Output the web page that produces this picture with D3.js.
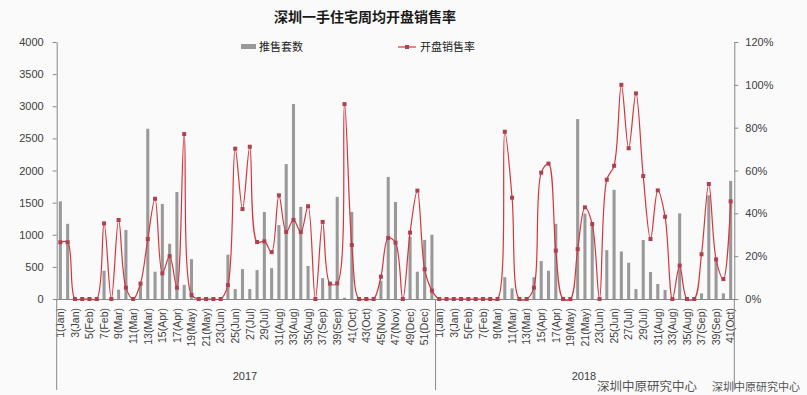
<!DOCTYPE html>
<html lang="zh">
<head>
    <meta charset="UTF-8">
    <title>深圳一手住宅周均开盘销售率</title>
    <script src="https://d3js.org/d3.v7.min.js"></script>
</head>
<style>
    html,body {
        margin: 0;
        padding: 0;
        background: #fafafa;
    }
    text { font-family: "Liberation Sans", Arial, sans-serif; }
    .cjk { font-family: "Noto Sans CJK SC", sans-serif; }
</style>
<body>
    <div id="svg"></div>
</body>
<script>
    // 周标签
    const weeks2017 = ["1(Jan)","2(Jan)","3(Jan)","4(Jan)","5(Feb)","6(Feb)","7(Feb)","8(Feb)","9(Mar)","10(Mar)",
        "11(Mar)","12(Mar)","13(Mar)","14(Apr)","15(Apr)","16(Apr)","17(Apr)","18(May)","19(May)","20(May)",
        "21(May)","22(Jun)","23(Jun)","24(Jun)","25(Jun)","26(Jun)","27(Jul)","28(Jul)","29(Jul)","30(Jul)",
        "31(Aug)","32(Aug)","33(Aug)","34(Aug)","35(Aug)","36(Sep)","37(Sep)","38(Sep)","39(Sep)","40(Oct)",
        "41(Oct)","42(Oct)","43(Oct)","44(Nov)","45(Nov)","46(Nov)","47(Nov)","48(Dec)","49(Dec)","50(Dec)",
        "51(Dec)","52(Dec)"];
    const weeks2018 = ["1(Jan)","2(Jan)","3(Jan)","4(Jan)","5(Feb)","6(Feb)","7(Feb)","8(Feb)","9(Mar)","10(Mar)",
        "11(Mar)","12(Mar)","13(Mar)","14(Apr)","15(Apr)","16(Apr)","17(Apr)","18(May)","19(May)","20(May)",
        "21(May)","22(Jun)","23(Jun)","24(Jun)","25(Jun)","26(Jun)","27(Jul)","28(Jul)","29(Jul)","30(Jul)",
        "31(Aug)","32(Aug)","33(Aug)","34(Aug)","35(Aug)","36(Sep)","37(Sep)","38(Sep)","39(Sep)","40(Oct)",
        "41(Oct)"];
    const years = ["2017", "2018"];

    // 推售套数
    const units2017 = [1520,1170,0,0,0,0,440,0,145,1075,
        0,245,2650,425,1480,860,1665,220,620,0,
        0,0,0,690,155,465,155,450,1355,480,
        1150,2100,3035,1435,515,0,325,235,1590,20,
        1355,0,0,0,285,1900,1510,0,970,425,
        920,1000];
    const units2018 = [0,0,0,0,0,0,0,0,0,340,
        165,0,0,340,590,440,1170,0,0,2800,
        1330,1150,0,760,1700,740,565,155,918,420,
        233,140,0,1333,0,0,88,1613,600,88,
        1837];

    // 开盘销售率 (%)
    const rate2017 = [26.5,26.5,0,0,0,0,35.3,0,36.9,5.3,
        0,7.2,28,46.8,12,20,5.3,77,1.9,0,
        0,0,0,6.5,70.2,42,71.1,26.6,26.9,21.9,
        48.4,31.3,36.9,31.3,43.3,0,36,7.2,7.3,91,
        25.2,0,0,0,10.4,28.5,26.3,0,31,50.6,
        13.9,3.9];
    const rate2018 = [0,0,0,0,0,0,0,0,0,78.1,
        47.3,0,0,5.3,59,63.2,22.6,0,0,23.3,
        42.8,35,0,55.7,62.2,100,70.4,96,57.4,28,
        50.7,38.4,0,15.6,0,0,20.9,53.7,18.5,9.3,
        45.6];

    const leftTicks = [0,500,1000,1500,2000,2500,3000,3500,4000];
    const rightTicks = [0,20,40,60,80,100,120];

    const labels = weeks2017.concat(weeks2018);
    const units = units2017.concat(units2018);
    const rates = rate2017.concat(rate2018);
    const idx = d3.range(labels.length);

    const svg = d3.select('#svg').append('svg')
        .attr('width', 807)
        .attr('height', 395);

    const pLeft = 56.7, pRight = 734.3, pTop = 42, pBottom = 299;

    const x = d3.scaleBand().domain(idx).range([pLeft, pRight]).padding(0);
    const yL = d3.scaleLinear().domain([0, 4000]).range([pBottom, pTop]);
    const yR = d3.scaleLinear().domain([0, 120]).range([pBottom, pTop]);
    const cx = i => x(i) + x.bandwidth() / 2;

    // 柱
    const bw = x.bandwidth() * 0.42;
    svg.append('g')
        .selectAll('rect')
        .data(idx)
        .enter()
        .append('rect')
        .attr('x', i => cx(i) - bw / 2)
        .attr('y', i => yL(units[i]))
        .attr('width', bw)
        .attr('height', i => pBottom - yL(units[i]))
        .attr('fill', '#999999');

    // 左轴
    const gl = svg.append('g')
        .attr('transform', `translate(${pLeft},0)`)
        .call(d3.axisLeft(yL).tickValues(leftTicks).tickSize(4).tickPadding(9).tickSizeOuter(0)
            .tickFormat(d3.format('d')));
    // 右轴
    const gr = svg.append('g')
        .attr('transform', `translate(${pRight},0)`)
        .call(d3.axisRight(yR).tickValues(rightTicks).tickSize(4).tickPadding(7).tickSizeOuter(0)
            .tickFormat(d => d + '%'));
    [gl, gr].forEach(g => {
        g.select('.domain').attr('stroke', '#888');
        g.selectAll('.tick line').attr('stroke', '#888');
        g.selectAll('.tick text').attr('fill', '#404040').style('font-size', '11px');
    });

    // 类别轴
    const gx = svg.append('g')
        .attr('transform', `translate(0,${pBottom})`)
        .call(d3.axisBottom(x).tickValues(idx.filter(i => (i < 52 ? i : i - 52) % 2 === 0))
            .tickFormat(i => labels[i]).tickSize(0).tickSizeOuter(0));
    gx.select('.domain').attr('stroke', '#888');
    gx.selectAll('.tick text')
        .attr('transform', 'rotate(-90)')
        .attr('x', -9)
        .attr('y', 0)
        .attr('dy', '0.36em')
        .style('text-anchor', 'end')
        .style('font-size', '10.5px')
        .attr('fill', '#404040');

    // 年份分隔线
    const seps = [pLeft, x(52), pRight];
    svg.append('g')
        .selectAll('line')
        .data(seps)
        .enter()
        .append('line')
        .attr('x1', d => d).attr('x2', d => d)
        .attr('y1', pBottom).attr('y2', 390)
        .attr('stroke', '#888');

    svg.append('g')
        .selectAll('text')
        .data(years)
        .enter()
        .append('text')
        .attr('x', (d, k) => k === 0 ? 245 : 584)
        .attr('y', 380)
        .attr('text-anchor', 'middle')
        .style('font-size', '11px')
        .attr('fill', '#404040')
        .text(d => d);

    // 折线
    const line = d3.line()
        .x(i => cx(i))
        .y(i => yR(rates[i]))
        .curve(d3.curveCatmullRom.alpha(0.5));
    svg.append('path')
        .attr('d', line(idx))
        .attr('fill', 'none')
        .attr('stroke', '#d7343c')
        .attr('stroke-width', 1.2);
    svg.append('g')
        .selectAll('rect')
        .data(idx)
        .enter()
        .append('rect')
        .attr('x', i => cx(i) - 2)
        .attr('y', i => yR(rates[i]) - 2)
        .attr('width', 4)
        .attr('height', 4)
        .attr('fill', '#b0404e');

    // 标题
    svg.append('text')
        .attr('class', 'cjk')
        .attr('x', 365)
        .attr('y', 22)
        .attr('text-anchor', 'middle')
        .style('font-size', '14px')
        .style('font-weight', 'bold')
        .attr('fill', '#1a1a1a')
        .text('深圳一手住宅周均开盘销售率');

    // 图例
    svg.append('rect')
        .attr('x', 241).attr('y', 44).attr('width', 15).attr('height', 5)
        .attr('fill', '#999999');
    svg.append('text')
        .attr('class', 'cjk')
        .attr('x', 259).attr('y', 51)
        .style('font-size', '11px')
        .attr('fill', '#222')
        .text('推售套数');
    svg.append('line')
        .attr('x1', 398).attr('x2', 416).attr('y1', 47).attr('y2', 47)
        .attr('stroke', '#d7343c').attr('stroke-width', 1.2);
    svg.append('rect')
        .attr('x', 405).attr('y', 45).attr('width', 4).attr('height', 4)
        .attr('fill', '#b0404e');
    svg.append('text')
        .attr('class', 'cjk')
        .attr('x', 420).attr('y', 51)
        .style('font-size', '11px')
        .attr('fill', '#222')
        .text('开盘销售率');

    // 来源
    svg.append('text')
        .attr('class', 'cjk')
        .attr('x', 597).attr('y', 391)
        .style('font-size', '12.5px')
        .attr('fill', '#555')
        .text('深圳中原研究中心');
    svg.append('text')
        .attr('class', 'cjk')
        .attr('x', 712).attr('y', 391)
        .style('font-size', '11px')
        .attr('fill', '#555')
        .text('深圳中原研究中心');
</script>
</html>
